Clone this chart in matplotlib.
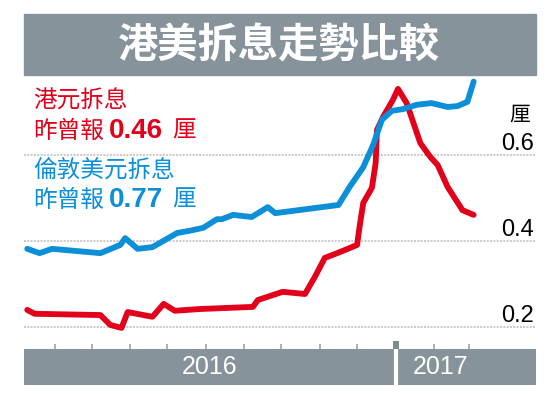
import numpy as np
import pandas as pd
import matplotlib
matplotlib.use('Agg')
import matplotlib.pyplot as plt
import matplotlib.dates as mdates
from matplotlib.patches import Rectangle

# 港元拆息 (厘)
hk_dates = ['2016-03-10', '2016-03-16', '2016-05-08', '2016-05-16', '2016-05-25', '2016-05-30',
            '2016-06-19', '2016-06-28', '2016-07-07', '2016-07-27', '2016-09-08', '2016-09-12',
            '2016-10-02', '2016-10-20', '2016-10-28', '2016-11-05', '2016-11-15', '2016-12-01',
            '2016-12-03', '2016-12-06', '2016-12-13', '2016-12-16', '2016-12-17', '2016-12-22',
            '2016-12-30', '2017-01-03', '2017-01-10', '2017-01-21', '2017-01-29', '2017-02-04',
            '2017-02-12', '2017-02-24', '2017-03-05']
hk_rate = [0.239, 0.230, 0.227, 0.204, 0.197, 0.234, 0.223, 0.253, 0.237, 0.241, 0.246, 0.262,
           0.281, 0.276, 0.316, 0.360, 0.371, 0.390, 0.432, 0.488, 0.523, 0.581, 0.657, 0.688,
           0.728, 0.753, 0.720, 0.627, 0.595, 0.576, 0.525, 0.471, 0.46]

# 倫敦美元拆息 (厘)
us_dates = ['2016-03-10', '2016-03-20', '2016-03-30', '2016-05-08', '2016-05-24', '2016-05-28',
            '2016-06-07', '2016-06-19', '2016-07-09', '2016-07-19', '2016-07-30', '2016-08-10',
            '2016-08-14', '2016-08-23', '2016-09-07', '2016-09-20', '2016-09-26', '2016-11-16',
            '2016-11-25', '2016-12-06', '2016-12-14', '2016-12-21', '2016-12-29', '2017-01-07',
            '2017-01-18', '2017-01-30', '2017-02-12', '2017-02-20', '2017-02-28', '2017-03-05']
us_rate = [0.381, 0.371, 0.381, 0.371, 0.390, 0.406, 0.381, 0.385, 0.418, 0.423, 0.430, 0.450,
           0.450, 0.460, 0.455, 0.478, 0.464, 0.483, 0.525, 0.571, 0.623, 0.681, 0.702, 0.706,
           0.716, 0.720, 0.711, 0.713, 0.723, 0.77]

y_ticks = [0.2, 0.4, 0.6]
month_ticks = ['2016-04-01', '2016-05-01', '2016-06-01', '2016-07-01', '2016-08-01', '2016-09-01',
               '2016-10-01', '2016-11-01', '2016-12-01', '2017-02-01', '2017-03-01']
year_start = '2017-01-01'

RED = '#e3001b'
BLUE = '#0a8fd8'
GRAY = '#87939a'
CJK = ['Noto Sans CJK TC', 'DejaVu Sans']
LAT = ['Liberation Sans', 'DejaVu Sans']

W, H = 560, 396


def fbox(x0, y0, x1, y1):
    return [x0 / W, 1 - y1 / H, (x1 - x0) / W, (y1 - y0) / H]


fig = plt.figure(figsize=(W / 100, H / 100), dpi=100)
fig.patch.set_facecolor('white')

base = mdates.date2num(pd.Timestamp('2016-01-01'))
xlim = (base + 66.4, base + 479.3)

# main chart
ax = fig.add_axes(fbox(24, 76, 536, 340))
ax.set_xlim(xlim)
ax.set_ylim(0.169, 0.783)
for s in ax.spines.values():
    s.set_visible(False)
ax.set_yticks(y_ticks)
ax.set_xticks([])
ax.tick_params(left=False, labelleft=False)
ax.grid(axis='y', color='#c8c8c8', linestyle=(0, (1, 0.7)), linewidth=1.4)
ax.set_facecolor('none')

ax.plot(pd.to_datetime(hk_dates), hk_rate, color=RED, lw=4.2,
        solid_joinstyle='round', solid_capstyle='round', clip_on=False)
ax.plot(pd.to_datetime(us_dates), us_rate, color=BLUE, lw=4.2,
        solid_joinstyle='round', solid_capstyle='round', clip_on=False)

for v in y_ticks:
    ax.annotate(f'{v:.1f}', xy=(1, v), xycoords=('axes fraction', 'data'),
                xytext=(-2, 5), textcoords='offset pixels', ha='right', va='baseline',
                fontsize=17, family=LAT, color='black')
ax.annotate('厘', xy=(1, y_ticks[-1]), xycoords=('axes fraction', 'data'),
            xytext=(-6, 40), textcoords='offset pixels', ha='right', va='center',
            fontsize=15, family=CJK, color='black')

# timeline bar
ax2 = fig.add_axes(fbox(24, 349, 536, 385))
ax2.set_xlim(xlim)
ax2.set_ylim(0, 1)
ax2.set_facecolor(GRAY)
for s in ax2.spines.values():
    s.set_visible(False)
ax2.set_yticks([])
ax2.set_xticks(pd.to_datetime(month_ticks))
ax2.set_xticks(pd.to_datetime([year_start]), minor=True)
ax2.tick_params(axis='x', which='major', top=True, bottom=False, labelbottom=False,
                direction='out', length=3.6, width=1.4, color='#a9b1b4')
ax2.tick_params(axis='x', which='minor', top=True, bottom=False, labelbottom=False,
                direction='out', length=5.8, width=4.3, color='#7f8a8f')
ys = mdates.date2num(pd.Timestamp(year_start))
ax2.axvline(ys, color='white', lw=3)
ax2.text((xlim[0] + ys) / 2, 0.5, '2016', ha='center', va='center',
         fontsize=18, family=LAT, color='white')
ax2.text(mdates.date2num(pd.Timestamp('2017-02-06')), 0.5, '2017', ha='center', va='center',
         fontsize=18, family=LAT, color='white')

# title banner
fig.add_artist(Rectangle((24 / W, 1 - 75 / H), 512 / W, 61 / H,
                         transform=fig.transFigure, color=GRAY, zorder=0))
fig.text(279 / W, 1 - 46 / H, '港美拆息走勢比較', ha='center', va='center',
         fontsize=29, weight='heavy', color='white', family=CJK)

# legend notes
fig.text(33 / W, 1 - 101 / H, '港元拆息', ha='left', va='center',
         fontsize=17, weight='medium', color=RED, family=CJK)
fig.text(33 / W, 1 - 131 / H, '昨曾報', ha='left', va='center',
         fontsize=17, weight='medium', color=RED, family=CJK)
fig.text(109 / W, 1 - 131 / H, '0.46', ha='left', va='center',
         fontsize=20, weight='bold', color=RED, family=LAT)
fig.text(172 / W, 1 - 131 / H, '厘', ha='left', va='center',
         fontsize=17, weight='medium', color=RED, family=CJK)

fig.text(33 / W, 1 - 170 / H, '倫敦美元拆息', ha='left', va='center',
         fontsize=17, weight='medium', color=BLUE, family=CJK)
fig.text(33 / W, 1 - 200 / H, '昨曾報', ha='left', va='center',
         fontsize=17, weight='medium', color=BLUE, family=CJK)
fig.text(109 / W, 1 - 200 / H, '0.77', ha='left', va='center',
         fontsize=20, weight='bold', color=BLUE, family=LAT)
fig.text(172 / W, 1 - 200 / H, '厘', ha='left', va='center',
         fontsize=17, weight='medium', color=BLUE, family=CJK)

fig.savefig('out.png', dpi=100, facecolor='white')
